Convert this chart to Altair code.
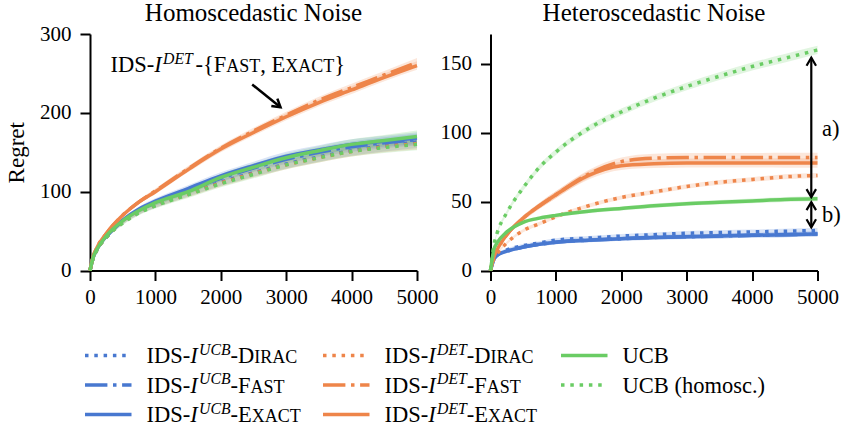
import altair as alt
import pandas as pd

# ---------------- data ----------------
t = [0, 50, 100, 250, 500, 750, 1000, 1500, 2000, 2500, 3000, 3500, 4000, 4500, 5000]

# Homoscedastic noise (left panel)
homo_ucb_dirac  = [0, 16, 25, 42, 61, 74, 83, 98, 112, 124, 135, 144, 152, 158, 163]
homo_ucb_fast   = [0, 17, 26, 43, 63, 77, 86, 102, 117, 130, 141, 150, 157, 162, 166]
homo_ucb_exact  = [0, 17, 26, 44, 64, 78, 88, 104, 120, 133, 145, 153, 160, 164, 168]
homo_det_dirac  = [0, 16, 25, 42, 61, 74, 83, 97, 111, 123, 134, 143, 151, 157, 161]
homo_det_fast   = [0, 18, 28, 47, 70, 87, 101, 129, 155, 177, 197, 216, 232, 248, 264]
homo_det_exact  = [0, 18, 28, 47, 70, 87, 100, 128, 154, 175, 195, 213, 229, 245, 260]
homo_ucb        = [0, 17, 26, 44, 63, 76, 86, 100, 118, 131, 143, 152, 160, 165, 170]
homo_ucb_homosc = [0, 16, 25, 42, 60, 73, 82, 96, 110, 122, 134, 143, 151, 156, 160]

# Heteroscedastic noise (right panel)
het_ucb_dirac  = [0, 9, 12, 15, 18, 20, 22, 23.5, 25, 26, 27, 27.5, 28, 28.5, 29]
het_ucb_fast   = [0, 8, 11, 14, 17, 19, 20.5, 22, 23, 24, 24.5, 25, 25.5, 26, 26.5]
het_ucb_exact  = [0, 8, 11, 14, 17, 19, 20.5, 22, 23, 24, 24.5, 25, 25.5, 26, 26.5]
het_det_dirac  = [0, 8, 12, 20, 29, 34, 39, 47, 53, 57, 61, 64, 66, 68, 69]
het_det_fast   = [0, 10, 15, 26, 38, 47, 55, 70, 79, 81.5, 82, 82, 82, 82, 82]
het_det_exact  = [0, 10, 15, 26, 38, 47, 55, 69, 76, 77.5, 78, 78, 78, 78, 78]
het_ucb        = [0, 15, 20, 28, 35, 38, 40, 43, 45, 47, 48.5, 49.5, 50.5, 51.5, 52]
het_ucb_homosc = [0, 18, 27, 42, 60, 75, 86, 103, 115, 125, 133.5, 141, 148, 154, 160]

# confidence band half-widths
homo_band_ucb = [0, 1, 1.5, 2, 2.5, 3, 3.5, 4, 4.5, 5, 5.5, 6, 6.5, 7, 7.5]
homo_band_det = [0, 1, 1, 1.5, 2, 2.5, 3, 3.5, 4, 4, 4.5, 4.5, 5, 5, 5.5]
het_band_small = [0, 0.5, 0.8, 1, 1.2, 1.3, 1.4, 1.5, 1.5, 1.6, 1.6, 1.7, 1.7, 1.8, 1.8]
het_band_det = [0, 0.8, 1, 1.5, 2, 2.2, 2.5, 3, 3, 3.2, 3.2, 3.3, 3.3, 3.4, 3.4]
het_band_homosc = [0, 1, 1.2, 1.5, 2, 2, 2.2, 2.4, 2.5, 2.6, 2.7, 2.8, 2.9, 3, 3]

x_ticks = [0, 1000, 2000, 3000, 4000, 5000]
homo_y_ticks = [0, 100, 200, 300]
het_y_ticks = [0, 50, 100, 150]

titles = ["Homoscedastic Noise", "Heteroscedastic Noise"]
y_title = "Regret"

# arrows in the heteroscedastic panel (data coords)
arrow_t = 4905
arrow_a = [53.2, 154.4]
arrow_b = [31.4, 49.6]
# arrow in the homoscedastic panel
ann_from = [2480, 236]
ann_to = [2913, 207]

keys = ["ucb_dirac", "ucb_fast", "ucb_exact", "det_dirac", "det_fast",
        "det_exact", "ucb", "ucb_homosc"]
homo_vals = dict(zip(keys, [homo_ucb_dirac, homo_ucb_fast, homo_ucb_exact, homo_det_dirac,
                            homo_det_fast, homo_det_exact, homo_ucb, homo_ucb_homosc]))
het_vals = dict(zip(keys, [het_ucb_dirac, het_ucb_fast, het_ucb_exact, het_det_dirac,
                           het_det_fast, het_det_exact, het_ucb, het_ucb_homosc]))
homo_bands = dict(zip(keys, [homo_band_ucb, homo_band_ucb, homo_band_ucb, homo_band_ucb,
                             homo_band_det, homo_band_det, homo_band_ucb, homo_band_ucb]))
het_bands = dict(zip(keys, [het_band_small, het_band_small, het_band_small, het_band_small,
                            het_band_det, het_band_det, het_band_small, het_band_homosc]))

# legend labels: (text, kind) segments; kinds n=normal, i=italic, sup=superscript, sc=small caps, gap=space
legend_labels = {
    "ucb_dirac": [("IDS-", "n"), ("I", "i"), ("UCB", "sup"), ("-D", "n"), ("IRAC", "sc")],
    "ucb_fast": [("IDS-", "n"), ("I", "i"), ("UCB", "sup"), ("-F", "n"), ("AST", "sc")],
    "ucb_exact": [("IDS-", "n"), ("I", "i"), ("UCB", "sup"), ("-E", "n"), ("XACT", "sc")],
    "det_dirac": [("IDS-", "n"), ("I", "i"), ("DET", "sup"), ("-D", "n"), ("IRAC", "sc")],
    "det_fast": [("IDS-", "n"), ("I", "i"), ("DET", "sup"), ("-F", "n"), ("AST", "sc")],
    "det_exact": [("IDS-", "n"), ("I", "i"), ("DET", "sup"), ("-E", "n"), ("XACT", "sc")],
    "ucb": [("UCB", "n")],
    "ucb_homosc": [("UCB (homosc.)", "n")],
}
annotation = [("IDS-", "n"), ("I", "i"), ("DET", "sup"), ("", "gap"), ("-{F", "n"), ("AST", "sc"),
              (", E", "n"), ("XACT", "sc"), ("}", "n")]

# ---------------- styles ----------------
SERIF = "Liberation Serif"
BLUE, ORANGE, GREEN = "#4878D0", "#EE854A", "#6ACC64"
LW = 3.5
DOT = [3.5, 5.8]
DASHDOT = [22.4, 5.6, 3.5, 5.6]
style = {
    "ucb_dirac": (BLUE, DOT), "ucb_fast": (BLUE, DASHDOT), "ucb_exact": (BLUE, None),
    "det_dirac": (ORANGE, DOT), "det_fast": (ORANGE, DASHDOT), "det_exact": (ORANGE, None),
    "ucb": (GREEN, None), "ucb_homosc": (GREEN, DOT),
}
PW, PH = 327, 236.5
OX, OY = 89.5, 33.5          # page position of the left plot's top-left corner
TXT = 22.5

AXIS_STYLE = dict(domainColor="black", domainWidth=2, tickColor="black", tickWidth=2,
                  tickSize=10, labelFont=SERIF, labelFontSize=21, labelColor="black",
                  grid=False, labelOverlap=False, format="d", titleFont=SERIF,
                  titleFontSize=23, titleFontWeight="normal", titleColor="black")

ROMAN = {'I': 333, 'D': 722, 'S': 556, '-': 333, 'U': 722, 'C': 667, 'B': 667, 'R': 667,
         'A': 722, 'F': 556, 'T': 611, 'E': 611, 'X': 722, '{': 480, '}': 480, ',': 250,
         ' ': 250, '(': 333, ')': 333, 'h': 500, 'o': 500, 'm': 778, 's': 389, 'c': 444,
         '.': 250}
ITAL = {'I': 333, 'U': 722, 'C': 667, 'B': 611, 'D': 722, 'E': 611, 'T': 556}


def seg_width(s, italic, size):
    tab = ITAL if italic else ROMAN
    return sum(tab.get(c, 500) for c in s) / 1000.0 * size


def rich(segments, x0, y0, f):
    out = []
    x = x0
    for s, kind in segments:
        if kind == "gap":
            x += 0.12 * f
            continue
        it, size, dy = False, f, 0.0
        if kind == "i":
            it = True
        elif kind == "sup":
            it, size, dy = True, 0.7 * f, -0.37 * f
        elif kind == "sc":
            size = 0.8 * f
        out.append({"text": s, "px": x, "py": y0 + dy, "size": size, "italic": it})
        x += seg_width(s, it, size)
        if kind == "i":
            x += 0.06 * f
    return out


one = pd.DataFrame({"o": [0]})


def value_text(p, **kw):
    props = dict(font=SERIF, fontSize=p["size"], align="left", baseline="alphabetic",
                 color="black")
    if p["italic"]:
        props["fontStyle"] = "italic"
    props.update(kw)
    return alt.Chart(one).mark_text(**props).encode(
        x=alt.value(p["px"]), y=alt.value(p["py"]), text=alt.value(p["text"]))


def panel(vals, bands, ymax, yticks, ytitle, title):
    xenc = alt.X("t:Q", scale=alt.Scale(domain=[0, 5000], nice=False, zero=False),
                 axis=alt.Axis(values=x_ticks, title=None, labelFlush=False,
                               labelPadding=6, **AXIS_STYLE))
    ysc = alt.Scale(domain=[0, ymax], nice=False, zero=True)
    yax = alt.Axis(values=yticks, title=ytitle, labelPadding=9, titlePadding=11, **AXIS_STYLE)
    areas, lines = [], []
    for k in keys:
        c, dash = style[k]
        df = pd.DataFrame({"t": t, "v": vals[k],
                           "lo": [v - b for v, b in zip(vals[k], bands[k])],
                           "hi": [v + b for v, b in zip(vals[k], bands[k])]})
        areas.append(alt.Chart(df).mark_area(color=c, opacity=0.2, interpolate="monotone")
                     .encode(x=xenc, y=alt.Y("lo:Q", scale=ysc, axis=yax), y2="hi:Q"))
        kw = dict(color=c, strokeWidth=LW, interpolate="monotone")
        if dash:
            kw["strokeDash"] = dash
        lines.append(alt.Chart(df).mark_line(**kw)
                     .encode(x=xenc, y=alt.Y("v:Q", scale=ysc, axis=yax)))
    layers = areas + lines
    # panel title as text above the plot area
    layers.append(alt.Chart(one).mark_text(font=SERIF, fontSize=25, align="center",
                                           baseline="alphabetic", color="black").encode(
        x=alt.value(PW / 2), y=alt.value(20.7 - OY), text=alt.value(title)))
    return xenc, ysc, yax, layers


# ---- left panel ----
xenc, ysc_l, yax_l, left_layers = panel(homo_vals, homo_bands, 300, homo_y_ticks, y_title, titles[0])
ann_df = pd.DataFrame({"t": [ann_from[0]], "t2": [ann_to[0]], "y": [ann_from[1]], "y2": [ann_to[1]]})
left_layers.append(alt.Chart(ann_df).mark_rule(color="black", strokeWidth=2.5).encode(
    x=xenc, x2="t2:Q", y=alt.Y("y:Q", scale=ysc_l, axis=yax_l), y2="y2:Q"))
head_df = pd.DataFrame({"t": [ann_to[0]], "y": [ann_to[1]]})
left_layers.append(alt.Chart(head_df).mark_point(
    shape="M-0.95,-1.6L0,0L0.95,-1.6", filled=False, color="black", strokeWidth=2.5,
    size=100, angle=309.5, opacity=1).encode(x=xenc, y=alt.Y("y:Q", scale=ysc_l, axis=yax_l)))
for p in rich(annotation, 110 - OX, 71.7 - OY, TXT):
    left_layers.append(value_text(p))

# ---- legend (drawn from the left panel, below both plots) ----
pieces = []
for i, k in enumerate(keys):
    col, row = (i // 3, i % 3) if i < 6 else (2, i - 6)
    c, dash = style[k]
    lx = 84.5 + 238 * col - OX
    ly = 355 + 29.5 * row - OY
    kw = dict(color=c, strokeWidth=LW)
    if dash:
        kw["strokeDash"] = dash
    left_layers.append(alt.Chart(one).mark_rule(**kw).encode(
        x=alt.value(lx), x2=alt.value(lx + 46.5), y=alt.value(ly)))
    pieces += rich(legend_labels[k], 146 + 238 * col - OX, 362.5 + 29.5 * row - OY, TXT)
for p in pieces:
    left_layers.append(value_text(p))

left = alt.layer(*left_layers).properties(width=PW, height=PH)

# ---- right panel ----
xenc, ysc_r, yax_r, right_layers = panel(het_vals, het_bands, 171.6, het_y_ticks, None, titles[1])
arr_df = pd.DataFrame({"t": [arrow_t, arrow_t], "y": [arrow_a[0], arrow_b[0]],
                       "y2": [arrow_a[1], arrow_b[1]]})
right_layers.append(alt.Chart(arr_df).mark_rule(color="black", strokeWidth=2.2).encode(
    x=xenc, y=alt.Y("y:Q", scale=ysc_r, axis=yax_r), y2="y2:Q"))
up_df = pd.DataFrame({"t": [arrow_t, arrow_t], "y": [arrow_a[1], arrow_b[1]]})
dn_df = pd.DataFrame({"t": [arrow_t, arrow_t], "y": [arrow_a[0], arrow_b[0]]})
right_layers.append(alt.Chart(up_df).mark_point(
    shape="M-0.95,1.6L0,0L0.95,1.6", filled=False, color="black", strokeWidth=2.2,
    size=100, opacity=1).encode(x=xenc, y=alt.Y("y:Q", scale=ysc_r, axis=yax_r)))
right_layers.append(alt.Chart(dn_df).mark_point(
    shape="M-0.95,-1.6L0,0L0.95,-1.6", filled=False, color="black", strokeWidth=2.2,
    size=100, opacity=1).encode(x=xenc, y=alt.Y("y:Q", scale=ysc_r, axis=yax_r)))
for lab, ypix in (("a)", 128), ("b)", 214)):
    right_layers.append(value_text({"text": lab, "px": 821.5 - 490, "py": ypix - OY,
                                    "size": TXT, "italic": False}, baseline="middle"))
right = alt.layer(*right_layers).properties(width=PW, height=PH)

chart = alt.hconcat(left, right, spacing=73.5, bounds="flush").properties(
    padding={"left": 5, "top": 1, "right": 0, "bottom": 0}, background="white"
).configure_view(stroke=None)

chart.save("out.html", embed_options={"renderer": "svg", "actions": False})
